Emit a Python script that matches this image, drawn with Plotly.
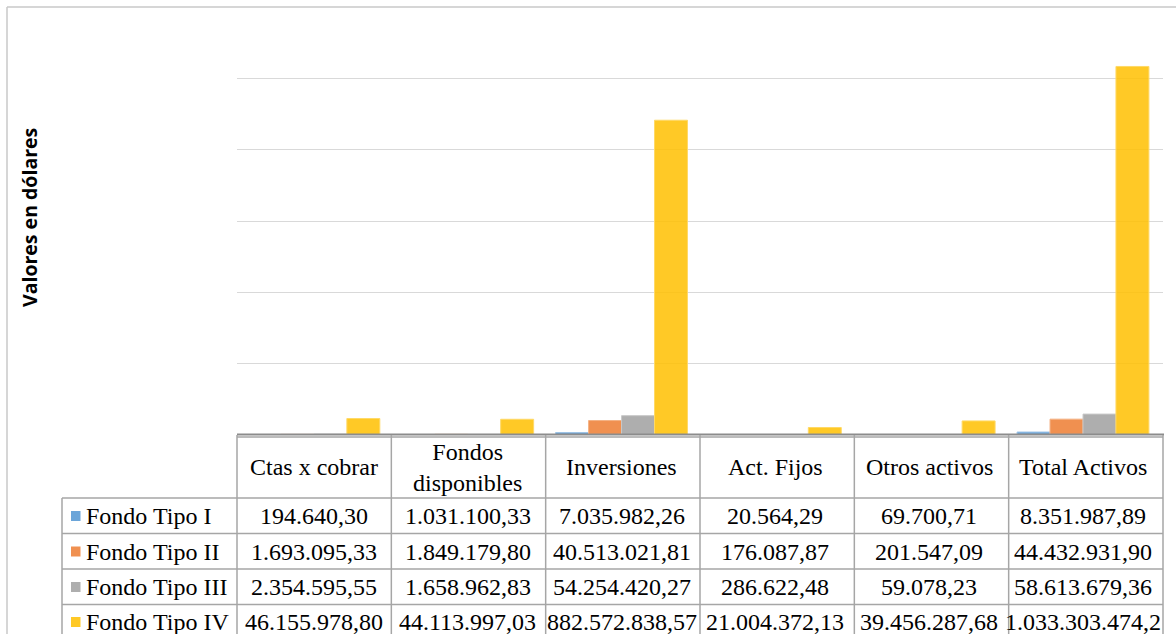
import plotly.graph_objects as go

categories = ["Ctas x cobrar", "Fondos disponibles", "Inversiones", "Act. Fijos", "Otros activos", "Total Activos"]
header_labels = ["Ctas x cobrar", "Fondos<br>disponibles", "Inversiones", "Act. Fijos", "Otros activos", "Total Activos"]
series_names = ["Fondo Tipo I", "Fondo Tipo II", "Fondo Tipo III", "Fondo Tipo IV"]
tipo_i = [194640.30, 1031100.33, 7035982.26, 20564.29, 69700.71, 8351987.89]
tipo_ii = [1693095.33, 1849179.80, 40513021.81, 176087.87, 201547.09, 44432931.90]
tipo_iii = [2354595.55, 1658962.83, 54254420.27, 286622.48, 59078.23, 58613679.36]
tipo_iv = [46155978.80, 44113997.03, 882572838.57, 21004372.13, 39456287.68, 1033303474.21]
series_values = [tipo_i, tipo_ii, tipo_iii, tipo_iv]
y_ticks = [0, 200e6, 400e6, 600e6, 800e6, 1000e6]

colors = ["rgba(91,155,213,0.9)", "rgba(237,125,49,0.85)", "rgba(165,165,165,0.9)", "rgba(255,192,0,0.85)"]
edge_colors = ["#9dc3e6", "#f4b183", "#c9c9c9", "#ffd966"]

W, H = 1176, 634
ML, MR, MT, MB = 237, 13, 7, 199
PW, PH = W - ML - MR, H - MT - MB


def px(x):
    return (x - ML) / PW


def py(y):
    return (H - MB - y) / PH


def fmt(v):
    s = f"{v:,.2f}"
    s = s.replace(",", "X").replace(".", ",").replace("X", ".")
    return s[:15]


fig = go.Figure()
for name, vals, c, e in zip(series_names, series_values, colors, edge_colors):
    fig.add_trace(go.Bar(name=name, x=categories, y=vals,
                         marker=dict(color=c, line=dict(color=e, width=1))))

grid = "#a6a6a6"
shapes = []
# outer chart border (top / left)
shapes.append(dict(type="line", xref="paper", yref="paper", x0=px(7), x1=px(W + 5), y0=py(7), y1=py(7),
                   line=dict(color="#c8c8c8", width=1.5)))
shapes.append(dict(type="line", xref="paper", yref="paper", x0=px(7), x1=px(7), y0=py(7), y1=py(H + 5),
                   line=dict(color="#c8c8c8", width=1.5)))
# baseline
shapes.append(dict(type="line", xref="paper", yref="paper", x0=px(237), x1=px(1164), y0=py(434.5), y1=py(434.5),
                   line=dict(color="#8c8c8c", width=2)))
# table horizontal lines
shapes.append(dict(type="line", xref="paper", yref="paper", x0=px(237), x1=px(1163), y0=py(437), y1=py(437),
                   line=dict(color=grid, width=1.5)))
row_lines = [498, 533.5, 569, 604.5]
for yy in row_lines:
    shapes.append(dict(type="line", xref="paper", yref="paper", x0=px(62), x1=px(1163), y0=py(yy), y1=py(yy),
                       line=dict(color=grid, width=1.5)))
# table vertical lines
col_w = PW / len(categories)
for i in range(len(categories) + 1):
    xx = ML + i * col_w
    shapes.append(dict(type="line", xref="paper", yref="paper", x0=px(xx), x1=px(xx), y0=py(435), y1=py(H + 5),
                       line=dict(color=grid, width=1.5)))
shapes.append(dict(type="line", xref="paper", yref="paper", x0=px(62), x1=px(62), y0=py(498), y1=py(H + 5),
                   line=dict(color=grid, width=1.5)))

row_centers = [516, 551.5, 587, 622]
annotations = []
tfont = dict(family="Liberation Serif, Times New Roman, serif", size=24, color="#000000")
for cat, lab in zip(categories, header_labels):
    annotations.append(dict(x=cat, xref="x", y=py(467), yref="paper", text=lab, showarrow=False,
                            font=tfont, xanchor="center", yanchor="middle"))
for r, (name, vals, c) in enumerate(zip(series_names, series_values, colors)):
    yc = row_centers[r]
    shapes.append(dict(type="rect", xref="paper", yref="paper", x0=px(71), x1=px(80.5), y0=py(yc - 5), y1=py(yc + 5),
                       fillcolor=c, line=dict(width=0)))
    annotations.append(dict(x=px(84), xref="paper", y=py(yc), yref="paper", text=name, showarrow=False,
                            font=tfont, xanchor="left", yanchor="middle"))
    for cat, v in zip(categories, vals):
        annotations.append(dict(x=cat, xref="x", y=py(yc), yref="paper", text=fmt(v), showarrow=False,
                                font=tfont, xanchor="center", yanchor="middle"))

annotations.append(dict(x=px(29), xref="paper", y=py(218), yref="paper", text="<b>Valores en dólares</b>",
                        textangle=-90, showarrow=False,
                        font=dict(family="Open Sans, Liberation Sans, sans-serif", size=19.5, color="#000000"),
                        xanchor="center", yanchor="middle"))

fig.update_layout(
    width=W, height=H,
    margin=dict(l=ML, r=MR, t=MT, b=MB),
    paper_bgcolor="white", plot_bgcolor="white",
    barmode="group", bargap=0.143, bargroupgap=0,
    showlegend=False,
    shapes=shapes, annotations=annotations,
    xaxis=dict(showticklabels=False, showgrid=False, zeroline=False, showline=False, ticks=""),
    yaxis=dict(range=[0, 1.2e9], tickvals=y_ticks, showticklabels=False, showgrid=True,
               gridcolor="#d9d9d9", gridwidth=1, zeroline=False, showline=False, ticks=""),
)

fig.write_html("out.html")
